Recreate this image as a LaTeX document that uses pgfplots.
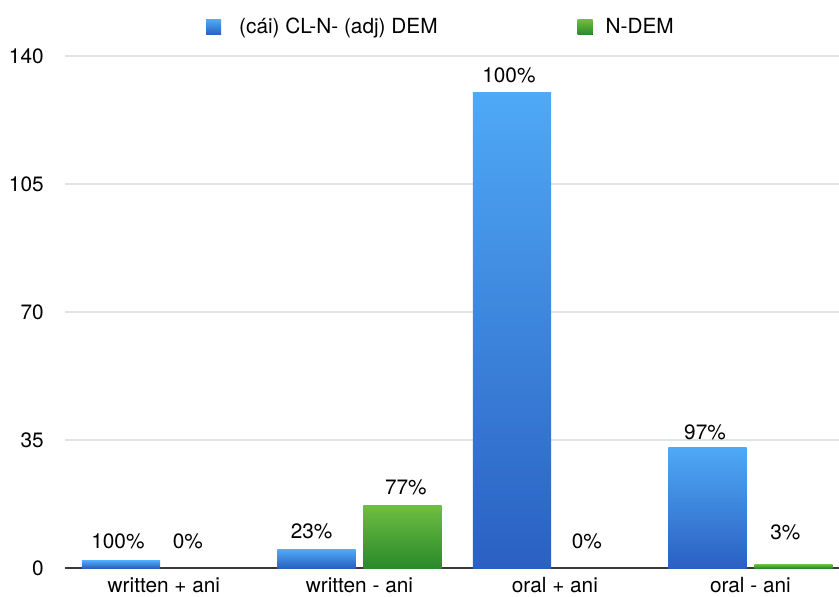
\documentclass[border=0pt]{standalone}
\usepackage{pgfplots}
\pgfplotsset{compat=1.18}
\usepackage{pgfplotstable}
\usepackage{fontspec}
\setmainfont{TeX Gyre Heros}

\definecolor{blueTop}{HTML}{4FA9F6}
\definecolor{blueBot}{HTML}{2A60C2}
\definecolor{greenTop}{HTML}{6DBE40}
\definecolor{greenBot}{HTML}{2A892B}
\definecolor{gridgray}{HTML}{E3E3E3}
\definecolor{basegray}{HTML}{3A3A3A}

% counts per category; pct = share within the category, dx/dy = label offset (pt)
\pgfplotstableread{
x  y    pct  dx    dy
0  2    100  -1.5  9.9
1  5    23   -2.4  9.2
2  130  100  -1.5  8.5
3  33   97   -1.2  7.5
}\clTab
\pgfplotstableread{
x  y    pct  dx    dy
0  0    0    -9.5  13.2
1  17   77   1.7   9.3
2  0    0    -5.5  13.2
3  1    3    -4.0  15.8
}\demTab

% one bar per \addplot, so that every bar gets its own vertical gradient
\pgfplotsset{
  clbar/.style={draw=none, top color=blueTop, bottom color=blueBot, bar shift=-0.22,
    restrict x to domain=#1:#1,
    legend image code/.code={\fill[top color=blueTop, bottom color=blueBot] (0pt,-3.75pt) rectangle (7.5pt,3.75pt);}},
  dembar/.style={draw=none, top color=greenTop, bottom color=greenBot, bar shift=0.22,
    restrict x to domain=#1:#1,
    legend image code/.code={\fill[top color=greenTop, bottom color=greenBot] (0pt,-3.75pt) rectangle (7.5pt,3.75pt);}},
}

\begin{document}
\fontsize{10.4}{12.5}\selectfont
\begin{tikzpicture}
\begin{axis}[
  scale only axis,
  width=387pt, height=256pt,
  xmin=-0.506, xmax=3.453,
  ymin=0, ymax=140,
  xtick={0,1,2,3},
  xticklabels={written + ani, written - ani, oral + ani, oral - ani},
  ytick={0,35,70,105,140},
  ymajorgrids,
  grid style={gridgray, line width=0.6pt},
  axis x line*=bottom,
  axis y line*=left,
  y axis line style={draw=none},
  x axis line style={basegray, line width=0.9pt},
  major tick length=0pt,
  /pgf/number format/assume math mode=true,
  yticklabel style={xshift=-7.0pt},
  xticklabel style={yshift=-1.0pt},
  ybar,
  bar width=0.4,
  point meta=explicit symbolic,
  nodes near coords={\pgfplotspointmeta\%},
  nodes near coords align={center},
  visualization depends on={\thisrow{dx} \as \ldx},
  visualization depends on={\thisrow{dy} \as \ldy},
  every node near coord/.append style={anchor=center, xshift=\ldx pt, yshift=\ldy pt, black},
  legend columns=2,
  legend style={
    at={(0.4845,1)}, anchor=center, yshift=14.5pt,
    draw=none, fill=none,
    nodes={inner sep=0pt},
    /tikz/column 1/.style={column sep=9pt},
    /tikz/column 2/.style={column sep=70pt},
    /tikz/column 3/.style={column sep=6.5pt},
  },
]
\addplot[clbar=0] table[x=x, y=y, meta=pct] {\clTab};
\addlegendentry{(cái) CL-N- (adj) DEM}
\addplot[dembar=0] table[x=x, y=y, meta=pct] {\demTab};
\addlegendentry{N-DEM}
\addplot[clbar=1, forget plot] table[x=x, y=y, meta=pct] {\clTab};
\addplot[clbar=2, forget plot] table[x=x, y=y, meta=pct] {\clTab};
\addplot[clbar=3, forget plot] table[x=x, y=y, meta=pct] {\clTab};
\addplot[dembar=1, forget plot] table[x=x, y=y, meta=pct] {\demTab};
\addplot[dembar=2, forget plot] table[x=x, y=y, meta=pct] {\demTab};
\addplot[dembar=3, forget plot] table[x=x, y=y, meta=pct] {\demTab};
\end{axis}
\pgfresetboundingbox
\path[use as bounding box] ([xshift=-32.5pt, yshift=-14pt]current axis.south west)
  rectangle ([yshift=28pt]current axis.north east);
\end{tikzpicture}
\end{document}
